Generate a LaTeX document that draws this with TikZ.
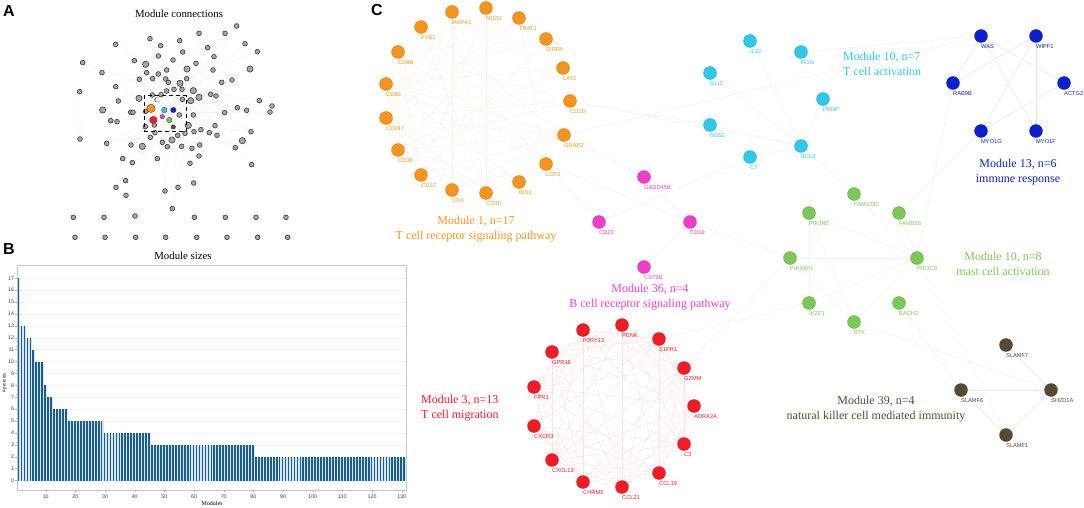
\documentclass[tikz,border=0pt]{standalone}
\usepackage{fontspec}
\setmainfont{Liberation Serif}
\newfontfamily\arialf{Liberation Sans}
\definecolor{cOr}{HTML}{F7941D}
\definecolor{cCy}{HTML}{2EC8E8}
\definecolor{cBl}{HTML}{0D20D0}
\definecolor{cPk}{HTML}{EE3FCB}
\definecolor{cGr}{HTML}{7CC756}
\definecolor{cRd}{HTML}{F51B25}
\definecolor{cBr}{HTML}{574A33}
\definecolor{barD}{HTML}{1B5E8E}
\definecolor{barL}{HTML}{D6E7F3}
\pgfdeclarelayer{bg}
\pgfdeclarelayer{paper}
\pgfsetlayers{paper,bg,main}
\tikzset{
  gnode/.style={circle, inner sep=0pt, minimum size=13pt, fill=#1, draw=#1!85!black, line width=0.3pt},
  glab/.style={font=\arialf\fontsize{5.7}{6}\selectfont, text=#1, inner sep=0pt, anchor=west},
  mtitle/.style={font=\fontsize{12}{15}\selectfont, text=#1, inner sep=0pt},
  anode/.style={circle, inner sep=0pt, minimum size=#1, fill=gray!70, draw=black!85, line width=0.5pt},
  cnode/.style={circle, inner sep=0pt, minimum size=#1, draw=black!70, line width=0.4pt},
  lnk/.style={draw=#1!13, line width=0.45pt},
  xlnk/.style={draw=gray!11, line width=0.45pt},
  alnk/.style={draw=gray!10, line width=0.35pt},
  tick/.style={font=\arialf\fontsize{5.3}{6}\selectfont, text=black!75, inner sep=0pt},
  plab/.style={font=\arialf\bfseries\fontsize{16}{16}\selectfont, inner sep=0pt},
  ptitle/.style={font=\fontsize{10.8}{12}\selectfont, inner sep=0pt}
}
\newcommand{\gn}[4]{\node[gnode=#3] (#1) at (#2) {}; \node[glab=#3] (#1l) at ([yshift=-10.5pt]#1.center) {#4};}
\begin{document}
\begin{tikzpicture}[x=1pt,y=-1pt]
\useasboundingbox (0,0) rectangle (1084,508);
\begin{pgfonlayer}{paper}
\fill[white] (0,0) rectangle (1084,508);
\end{pgfonlayer}

% ---------------- panel labels
\node[plab] (pA) at (9,11) {A};
\node[plab] (pB) at (9,249) {B};
\node[plab] (pC) at (377,10) {C};

% ---------------- panel A
\node[ptitle] (tA) at (179,14) {Module connections};
\begin{scope}[x=0.33333pt,y=-0.33333pt]
\foreach \p [count=\k] in {(710,78),(597,100),(675,100),(450,116),(539,122),(347,133),(482,137),(735,131),(623,143),(548,156),(772,155),(475,168),(642,170),(403,182),(519,180),(248,188),(588,190),(306,218),(500,210),(440,218),(475,222),(639,210),(418,238),(458,236),(497,237),(505,247),(560,236),(696,240),(665,247),(347,260),(546,268),(522,268),(239,275),(457,285),(483,284),(500,273),(632,283),(648,288),(547,298),(778,302),(816,318),(810,336),(712,323),(740,331),(355,303),(392,337),(399,337),(437,334),(538,345),(580,345),(674,338),(332,362),(351,365),(436,380),(463,375),(582,395),(555,400),(603,389),(628,398),(645,377),(651,406),(753,395),(451,412),(465,398),(533,406),(487,427),(502,440),(545,439),(576,445),(599,435),(597,468),(240,417),(320,430),(393,435),(368,476),(397,488),(472,476),(570,490),(706,443),(755,494),(377,542),(348,562),(378,586),(495,573),(534,562),(581,549),(517,626)}
  \node[anode=4.8pt] (a\k) at \p {};
\foreach \p [count=\k] in {(580,272),(597,292),(572,302),(516,420),(727,422),(565,376),(308,330),(427,439),(750,207),(561,207),(540,250),(437,193),(417,295)}
  \node[anode=6.3pt] (al\k) at \p {};
\foreach \p [count=\k] in {(220,652),(312,652),(405,648),(583,652),(676,652),(768,652),(858,652),(225,712),(315,712),(407,712),(497,712),(590,712),(681,712),(773,712),(863,712)}
  \node[anode=4.8pt] (ab\k) at \p {};
\node[cnode=8.5pt, fill=cOr] (aO) at (453,325) {};
\node[cnode=5.5pt, fill=cCy] (aC) at (493,330) {};
\node[cnode=5.5pt, fill=cBl] (aB) at (520,330) {};
\node[cnode=7.5pt, fill=cRd] (aR) at (460,360) {};
\node[cnode=4.5pt, fill=cPk] (aP) at (487,350) {};
\node[cnode=5.5pt, fill=cGr] (aG) at (508,360) {};
\node[cnode=4.5pt, fill=cBr] (aN) at (520,381) {};
\node[draw=black, dashed, dash pattern=on 4pt off 3pt, line width=0.9pt, minimum width=42pt, minimum height=36pt, inner sep=0pt] (abox) at (495,341) {};
\node[font=\fontsize{7}{7}\selectfont, inner sep=0pt] (aboxl) at (470,300) {C};
\end{scope}
\begin{pgfonlayer}{bg}
\foreach \u/\v in {a33/a72,a6/al11,a18/a27,a30/a9,a45/a37,a52/a50,a73/a60,a75/a58,a77/a9,a81/al1,a84/a5,a87/al6,a62/a20,a40/a23,a41/a34,a28/a54,a79/a12,a3/a66,a16/al3,a14/a58,a1/a49,a8/a55,a11/al13,a42/a46,a44/a64,a80/a26,a71/a22,a86/a7,a82/a39,a2/a68,aO/a37,aO/a9,aR/a62,aR/a86,aC/a28,aB/a43,aG/a79,aP/a84,aN/a71,aO/a18,aR/a73,a4/a69,a13/a74,a29/a76,a51/a47,a10/a65,a19/a85}
  \draw[alnk] (\u) -- (\v);
\end{pgfonlayer}

% ---------------- panel B
\node[ptitle] (tB) at (183,256) {Module sizes};
\foreach \v in {0,...,17}
  \draw[gray!12, line width=0.3pt] (17,{480.5-\v*11.9}) -- (406,{480.5-\v*11.9});
\foreach \i in {1,...,131} {
  \pgfmathsetmacro\h{2+(\i<=80)+(\i<=45)+(\i<=29)+(\i<=17)+(\i<=12)+(\i<=10)+2*(\i<=9)+(\i<=6)+(\i<=5)+(\i<=3)+4*(\i<=1)}
  \pgfmathsetmacro\xc{19+(\i-1)*2.967}
  \fill[barL] ({\xc-1.48},480.5) rectangle ({\xc+1.48},{480.5-\h*11.9});
  \fill[barD] ({\xc-1.35},480.5) rectangle ({\xc+0.4},{480.5-\h*11.9});
}
\draw[gray!45, line width=0.7pt] (17,265) rectangle (406,490);
\foreach \v in {0,...,17} {
  \node[tick, anchor=east] (yt\v) at (14.3,{480.5-\v*11.9}) {\v};
  \draw[gray!60, line width=0.3pt] (14.8,{480.5-\v*11.9}) -- (17,{480.5-\v*11.9});
}
\foreach \v in {10,20,...,130} {
  \node[tick] (xt\v) at ({19+(\v-1)*2.967},497) {\v};
  \draw[gray!60, line width=0.3pt] ({19+(\v-1)*2.967},490) -- ({19+(\v-1)*2.967},492);
}
\node[font=\fontsize{5}{5}\selectfont, rotate=90, inner sep=0pt] (ylab) at (4.5,383) {\# proteins};
\node[font=\fontsize{6}{6}\selectfont, inner sep=0pt] (xlab) at (212,503.5) {Modules};

% ---------------- panel C : module 1 (orange)
\gn{o1}{452,12}{cOr}{MAPK1}
\gn{o2}{486,8}{cOr}{RGS1}
\gn{o3}{519,18}{cOr}{TRAT1}
\gn{o4}{546,39}{cOr}{SIRPA}
\gn{o5}{563,68}{cOr}{LAT2}
\gn{o6}{570,101}{cOr}{CD1D}
\gn{o7}{564,135}{cOr}{GRAP2}
\gn{o8}{546,164}{cOr}{LCP2}
\gn{o9}{519,182}{cOr}{BIN1}
\gn{o10}{486,193}{cOr}{CD3D}
\gn{o11}{452,190}{cOr}{CD4}
\gn{o12}{421,175}{cOr}{CD1C}
\gn{o13}{398,150}{cOr}{CD3E}
\gn{o14}{386,118}{cOr}{CD247}
\gn{o15}{386,84}{cOr}{CD86}
\gn{o16}{398,52}{cOr}{CD8B}
\gn{o17}{421,27}{cOr}{FYB1}
\node[mtitle=cOr, align=center] (t1) at (476,229.5) {Module 1, n=17\\T cell receptor signaling pathway};

% module 10 (cyan)
\gn{c1}{750,41}{cCy}{IL32}
\gn{c2}{801,52}{cCy}{RGN}
\gn{c3}{710,73}{cCy}{GLI2}
\gn{c4}{823,99}{cCy}{PRNP}
\gn{c5}{710,125}{cCy}{G0S2}
\gn{c6}{801,146}{cCy}{BCL2}
\gn{c7}{750,157}{cCy}{C7}
\node[mtitle=cCy, align=left, anchor=west] (t2) at (843,63.5) {Module 10, n=7\\T cell activation};

% module 13 (blue)
\gn{b1}{981,36}{cBl}{WAS}
\gn{b2}{1036,36}{cBl}{WIPF1}
\gn{b3}{953,83}{cBl}{RAB9B}
\gn{b4}{1064,83}{cBl}{ACTG2}
\gn{b5}{981,131}{cBl}{MYO1G}
\gn{b6}{1036,131}{cBl}{MYO1F}
\node[mtitle=cBl, align=center] (t3) at (1018,172.5) {Module 13, n=6\\immune response};

% module 36 (pink)
\gn{p1}{644,177}{cPk}{GADD45B}
\gn{p2}{599,222}{cPk}{CD22}
\gn{p3}{690,222}{cPk}{CD19}
\gn{p4}{644,267}{cPk}{CD79B}
\node[mtitle=cPk, align=center] (t4) at (650,297) {Module 36, n=4\\B cell receptor signaling pathway};

% module 10 (green)
\gn{g1}{854,194}{cGr}{FAM129C}
\gn{g2}{809,213}{cGr}{PIK3R5}
\gn{g3}{899,213}{cGr}{FAM83B}
\gn{g4}{790,258}{cGr}{PIK3AP1}
\gn{g5}{917,258}{cGr}{PIK3CD}
\gn{g6}{809,303}{cGr}{IKZF1}
\gn{g7}{899,303}{cGr}{BACH2}
\gn{g8}{854,322}{cGr}{BTK}
\node[mtitle=cGr, align=center] (t5) at (1003,263.5) {Module 10, n=8\\mast cell activation};

% module 3 (red)
\gn{r1}{622,325}{cRd}{PENK}
\gn{r2}{659,339}{cRd}{S1PR1}
\gn{r3}{684,368}{cRd}{GZMM}
\gn{r4}{694,406}{cRd}{ADRA2A}
\gn{r5}{684,444}{cRd}{C3}
\gn{r6}{659,473}{cRd}{CCL19}
\gn{r7}{622,487}{cRd}{CCL21}
\gn{r8}{583,482}{cRd}{CHRM2}
\gn{r9}{552,460}{cRd}{CXCL13}
\gn{r10}{534,426}{cRd}{CXCR3}
\gn{r11}{534,387}{cRd}{FPR1}
\gn{r12}{552,352}{cRd}{GPR18}
\gn{r13}{583,330}{cRd}{P2RY13}
\node[mtitle=cRd, align=left, anchor=west] (t6) at (421,408.5) {Module 3, n=13\\T cell migration};

% module 39 (brown)
\gn{s1}{1006,345}{cBr}{SLAMF7}
\gn{s2}{961,390}{cBr}{SLAMF6}
\gn{s3}{1051,390}{cBr}{SH2D1A}
\gn{s4}{1006,435}{cBr}{SLAMF1}
\node[mtitle=cBr, align=center] (t7) at (876,409) {Module 39, n=4\\natural killer cell mediated immunity};

% ---------------- links
\begin{pgfonlayer}{bg}
\foreach \u/\v in {o7/b1,o6/c6,o8/p3,b3/g5,g8/s3,g5/s4,c7/p2,p3/g4,r2/g6,p2/o8,c6/g1,b5/g3,b1/c2,p1/o7,r1/p4,g4/r3,c5/o6,g7/s2}
  \draw[xlnk] (\u) -- (\v);
\foreach \u/\v in {14/7,13/7,15/7,16/8,17/8,1/13,2/14,3/13,3/14,4/16,4/15,6/13,6/14,8/11,8/10,7/11,9/13,10/14,11/16,11/14,10/17,10/1,12/7,13/14,13/15,16/14,17/14,1/14,3/8,5/15,2/12,9/15,12/16,6/16,7/17,5/13,4/12,1/11,2/10,15/8}
  \draw[lnk=cOr] (o\u) -- (o\v);
\foreach \u in {1,3,5,7,4}
  \draw[lnk=cCy] (c6) -- (c\u);
\foreach \u/\v in {1/4,1/6,2/3,2/5,2/6,4/5,1/3}
  \draw[lnk=cBl] (b\u) -- (b\v);
\draw[lnk=cPk] (p1) -- (p3);
\draw[lnk=cPk] (p3) -- (p4);
\foreach \u/\v in {5/2,5/1,5/4,5/6,5/8,2/8,4/8,2/6,5/3}
  \draw[lnk=cGr] (g\u) -- (g\v);
\foreach \i in {1,...,13}
  \foreach \d in {2,...,5} {
    \pgfmathtruncatemacro\j{mod(\i+\d-1,13)+1}
    \draw[lnk=cRd] (r\i) -- (r\j);
  }
\foreach \i in {1,3,5,7,9,11}
  {
    \pgfmathtruncatemacro\j{mod(\i+5,13)+1}
    \draw[lnk=cRd] (r\i) -- (r\j);
  }
\foreach \u/\v in {1/3,2/3,3/4,2/4}
  \draw[lnk=cBr] (s\u) -- (s\v);
\end{pgfonlayer}
\end{tikzpicture}
\end{document}
